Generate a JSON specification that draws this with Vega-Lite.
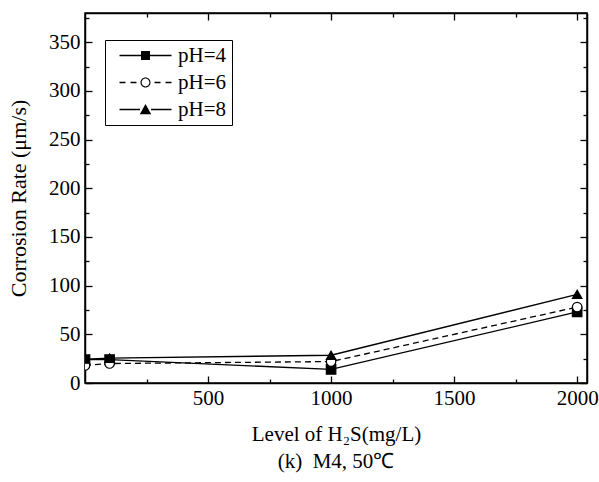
{
  "$schema": "https://vega.github.io/schema/vega-lite/v6.json",
  "width": 502,
  "height": 370,
  "autosize": {"type": "none"},
  "padding": {"left": 85, "top": 13, "right": 12, "bottom": 99},
  "background": "white",
  "config": {
    "font": "Liberation Serif",
    "view": {"stroke": "black", "strokeWidth": 1.5},
    "axis": {"domainColor": "black", "domainWidth": 1.5, "tickColor": "black", "tickWidth": 1.3, "labelColor": "black", "labelFont": "Liberation Serif", "labelFontSize": 21, "titleFont": "Liberation Serif", "titleFontSize": 21, "titleFontWeight": "normal", "titleColor": "black", "grid": false}
  },
  "title": {"text": "(k)\u00a0\u00a0M4, 50℃", "orient": "bottom", "anchor": "middle", "font": "Liberation Serif", "fontSize": 21, "fontWeight": "normal", "color": "black", "offset": 7},
  "data": {
    "values": [
      {"series": "pH=4", "h2s": 0, "rate": 24},
      {"series": "pH=4", "h2s": 100, "rate": 24},
      {"series": "pH=4", "h2s": 1000, "rate": 14},
      {"series": "pH=4", "h2s": 2000, "rate": 73},
      {"series": "pH=6", "h2s": 0, "rate": 18},
      {"series": "pH=6", "h2s": 100, "rate": 20},
      {"series": "pH=6", "h2s": 1000, "rate": 22},
      {"series": "pH=6", "h2s": 2000, "rate": 78},
      {"series": "pH=8", "h2s": 0, "rate": 24.5},
      {"series": "pH=8", "h2s": 100, "rate": 25.5},
      {"series": "pH=8", "h2s": 1000, "rate": 28.5},
      {"series": "pH=8", "h2s": 2000, "rate": 91}
    ]
  },
  "layer": [
    {
      "transform": [{"filter": "datum.series != 'pH=6'"}],
      "mark": {"type": "line", "color": "black", "strokeWidth": 1.3, "clip": true},
      "encoding": {
        "x": {"field": "h2s", "type": "quantitative", "scale": {"domain": [0, 2040], "nice": false, "zero": false},
          "axis": {"orient": "bottom", "title": "Level of H₂S(mg/L)", "titlePadding": 15, "values": [250, 500, 750, 1000, 1250, 1500, 1750, 2000], "format": "d",
            "labelExpr": "datum.value % 500 == 0 ? datum.label : ''", "labelPadding": 11, "labelFlush": false,
            "tickSize": {"condition": {"test": "datum.value % 500 == 0", "value": -7}, "value": -4}}},
        "y": {"field": "rate", "type": "quantitative", "scale": {"domain": [0, 380], "nice": false},
          "axis": {"orient": "left", "title": "Corrosion Rate (μm/s)", "titleFontSize": 22, "titlePadding": 18, "values": [0, 25, 50, 75, 100, 125, 150, 175, 200, 225, 250, 275, 300, 325, 350, 375], "format": "d",
            "labelExpr": "datum.value % 50 == 0 ? datum.label : ''", "labelPadding": 12, "labelFlush": false,
            "tickSize": {"condition": {"test": "datum.value % 50 == 0", "value": -7}, "value": -4}}},
        "detail": {"field": "series", "type": "nominal"}
      }
    },
    {
      "transform": [{"filter": "datum.series == 'pH=6'"}],
      "mark": {"type": "line", "color": "black", "strokeWidth": 1.3, "strokeDash": [6, 4], "clip": true},
      "encoding": {
        "x": {"field": "h2s", "type": "quantitative", "axis": null},
        "y": {"field": "rate", "type": "quantitative", "axis": null}
      }
    },
    {
      "mark": {"type": "point", "filled": true, "opacity": 1, "stroke": "black", "strokeWidth": 1.2, "size": 90, "clip": true},
      "encoding": {
        "x": {"field": "h2s", "type": "quantitative",
          "axis": {"orient": "top", "title": null, "labels": false, "values": [250, 500, 750, 1000, 1250, 1500, 1750, 2000],
            "tickSize": {"condition": {"test": "datum.value % 500 == 0", "value": -7}, "value": -4}}},
        "y": {"field": "rate", "type": "quantitative",
          "axis": {"orient": "right", "title": null, "labels": false, "values": [0, 25, 50, 75, 100, 125, 150, 175, 200, 225, 250, 275, 300, 325, 350, 375],
            "tickSize": {"condition": {"test": "datum.value % 50 == 0", "value": -7}, "value": -4}}},
        "fill": {"condition": {"test": "datum.series == 'pH=6'", "value": "white"}, "value": "black"},
        "shape": {"field": "series", "type": "nominal", "scale": {"domain": ["pH=4", "pH=6", "pH=8"], "range": ["square", "circle", "triangle-up"]}, "legend": null}
      }
    },
    {
      "transform": [{"filter": "false"}],
      "mark": {"type": "point", "filled": true, "opacity": 1, "color": "black", "strokeWidth": 0, "size": 100},
      "encoding": {
        "x": {"field": "h2s", "type": "quantitative", "axis": null},
        "y": {"field": "rate", "type": "quantitative", "axis": null},
        "shape": {"field": "series", "type": "nominal", "scale": {"domain": ["pH=4", "pH=6", "pH=8"],
          "range": [
            "M-5.2,-0.13H-0.9V0.13H-5.2ZM0.9,-0.13H5.2V0.13H0.9ZM-0.9,-0.9H0.9V0.9H-0.9Z",
            "M-5.2,-0.13H-4V0.13H-5.2ZM-3,-0.13H-1.8V0.13H-3ZM1.8,-0.13H3V0.13H1.8ZM4,-0.13H5.2V0.13H4ZM1,0A1,1 0 1,1 -1,0A1,1 0 1,1 1,0ZM0.78,0A0.78,0.78 0 1,0 -0.78,0A0.78,0.78 0 1,0 0.78,0Z",
            "M-5.2,-0.13H-1.1V0.13H-5.2ZM1.1,-0.13H5.2V0.13H1.1ZM-1.15,0.95L0,-1.1L1.15,0.95Z"]},
          "legend": {"title": null, "orient": "none", "legendX": 20, "legendY": 27, "strokeColor": "black", "padding": 5, "symbolSize": 100,
            "symbolOffset": 25, "labelOffset": 22, "labelFont": "Liberation Serif", "labelFontSize": 21, "labelColor": "black", "rowPadding": 5,
            "symbolStrokeWidth": 0, "symbolOpacity": 1, "symbolFillColor": "black"}}
      }
    }
  ],
  "resolve": {"axis": {"x": "independent", "y": "independent"}, "scale": {"shape": "independent"}}
}
